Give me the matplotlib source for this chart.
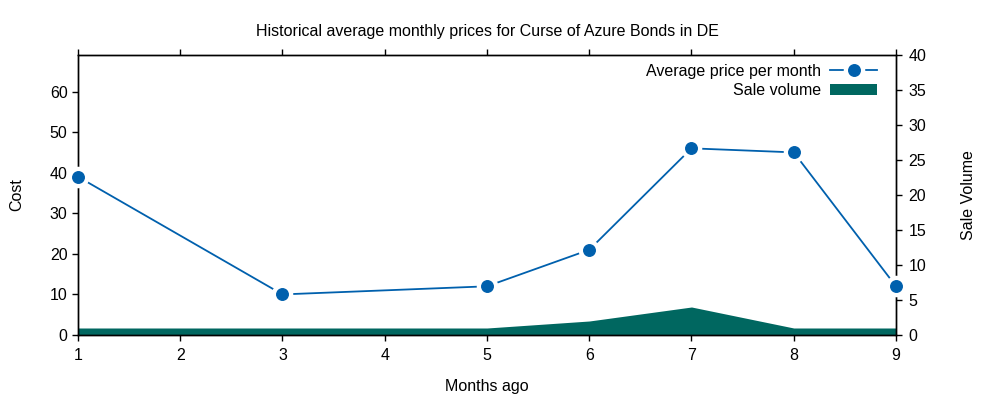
import matplotlib
matplotlib.use("Agg")
import matplotlib.pyplot as plt

months = [1, 3, 5, 6, 7, 8, 9]
avg_price = [39, 10, 12, 21, 46, 45, 12]
sale_volume = [1, 1, 1, 2, 4, 1, 1]
x_ticks = [1, 2, 3, 4, 5, 6, 7, 8, 9]
cost_ticks = [0, 10, 20, 30, 40, 50, 60]
vol_ticks = [0, 5, 10, 15, 20, 25, 30, 35, 40]

plt.rcParams['font.family'] = ['Liberation Sans', 'DejaVu Sans']
FS = 11.5
line_c = '#0060ad'
fill_c = '#006760'

fig = plt.figure(figsize=(10, 4), dpi=100)
ax = fig.add_axes([0.078, 0.1625, 0.818, 0.70])
ax2 = ax.twinx()

ax2.set_zorder(1)
ax.set_zorder(2)
ax.patch.set_visible(False)
fill = ax2.fill_between(months, 0, sale_volume, color=fill_c, linewidth=0)
ax2.set_ylim(0, 40)
ax2.set_yticks(vol_ticks)

ax.set_xlim(1, 9)
ax.set_ylim(0, max(avg_price) * 1.5)
ax.set_xticks(x_ticks)
ax.set_yticks(cost_ticks)

ln, = ax.plot(months, avg_price, color=line_c, lw=1.3, zorder=3)
halo, = ax.plot(months, avg_price, ls='none', marker='o', ms=14.5, mfc='white',
                mec='white', zorder=4, clip_on=False)
mk, = ax.plot(months, avg_price, ls='none', marker='o', ms=8.3, mfc=line_c,
              mec=line_c, zorder=5, clip_on=False)

for a in (ax, ax2):
    for s in a.spines.values():
        s.set_linewidth(1.0)
ax.tick_params(axis='both', labelsize=FS, direction='out', length=4, width=1)
ax.tick_params(axis='x', top=True, pad=5)
ax2.tick_params(axis='y', labelsize=FS, direction='out', length=4, width=1, pad=5)

ax.set_xlabel('Months ago', fontsize=FS, labelpad=12)
ax.set_ylabel('Cost', fontsize=FS, labelpad=18)
ax2.set_ylabel('Sale Volume', fontsize=FS, labelpad=25)
fig.text(0.487, 0.922, 'Historical average monthly prices for Curse of Azure Bonds in DE',
         ha='center', va='center', fontsize=FS)

leg = ax.legend([(ln, halo, mk), fill], ['Average price per month', 'Sale volume'],
                loc='upper right', bbox_to_anchor=(0.988, 1.0),
                markerfirst=False, frameon=False, fontsize=FS,
                handlelength=2.95, numpoints=1, borderaxespad=0.15,
                labelspacing=0.25, handletextpad=0.6)

fig.savefig('out.png', dpi=100)
